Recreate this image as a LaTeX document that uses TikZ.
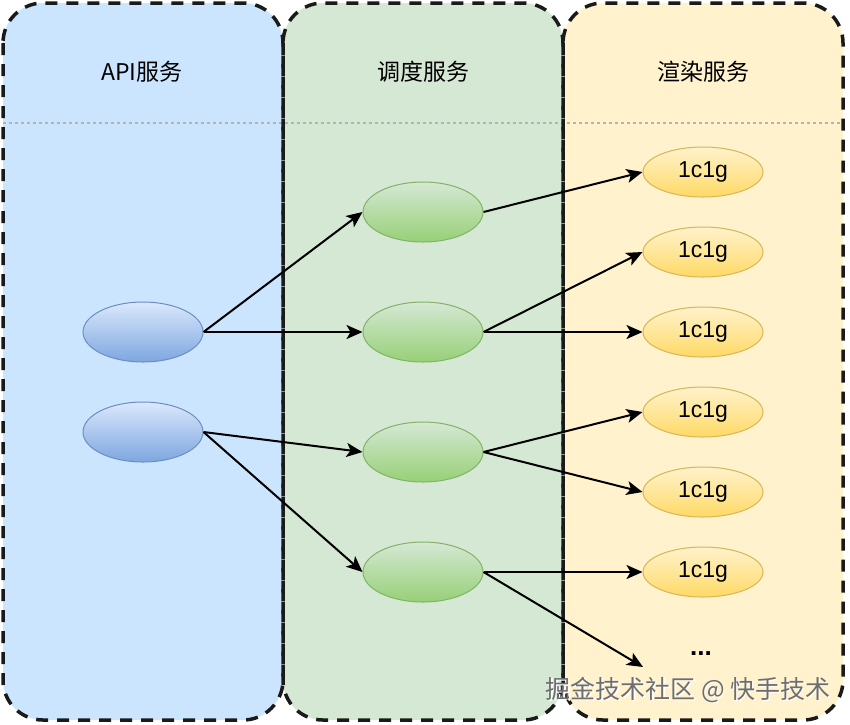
\documentclass[tikz,border=0pt]{standalone}
\usepackage{fontspec}
\setmainfont{Liberation Sans}
\newfontfamily\cjk{Noto Sans CJK SC}
\usetikzlibrary{arrows.meta,shapes.geometric}
\definecolor{pblue}{HTML}{CCE5FF}
\definecolor{pgreen}{HTML}{D5E8D4}
\definecolor{pyellow}{HTML}{FFF2CC}
\definecolor{bstroke}{HTML}{6C8EBF}
\definecolor{gstroke}{HTML}{82B366}
\definecolor{ystroke}{HTML}{D6B656}
\definecolor{btop}{HTML}{DAE8FC}
\definecolor{bbot}{HTML}{7EA6E0}
\definecolor{gtop}{HTML}{D5E8D4}
\definecolor{gbot}{HTML}{97D077}
\definecolor{ytop}{HTML}{FFF2CC}
\definecolor{ybot}{HTML}{FFD966}
\definecolor{border}{HTML}{1A1A1A}
\definecolor{sep}{HTML}{B3B3B3}
\definecolor{wm}{HTML}{6E6E6E}
\tikzset{
  panel/.style={draw=border, line width=3.5pt, dash pattern=on 12pt off 9pt, rounded corners=40pt},
  title/.style={font=\fontsize{23}{26}\selectfont\cjk},
  blueell/.style={ellipse, draw=bstroke, line width=1pt, top color=btop, bottom color=bbot, minimum width=120pt, minimum height=60pt, inner sep=0pt},
  greenell/.style={ellipse, draw=gstroke, line width=1pt, top color=gtop, bottom color=gbot, minimum width=120pt, minimum height=60pt, inner sep=0pt},
  yellowell/.style={ellipse, draw=ystroke, line width=1pt, top color=ytop, bottom color=ybot, minimum width=120pt, minimum height=50pt, inner sep=0pt, font=\fontsize{23}{26}\selectfont},
  conn/.style={-{Stealth[length=16pt,width=14pt,inset=4pt]}, line width=2pt, black},
  wmark/.style={font=\fontsize{25}{28}\selectfont\cjk},
}
\begin{document}
\begin{tikzpicture}[x=1pt,y=-1pt]
\useasboundingbox (0,0) rectangle (850,724);
\fill[white] (0,0) rectangle (850,724);
% panels fill
\fill[pblue, rounded corners=40pt] (3,3) rectangle (283,720);
\fill[pgreen, rounded corners=40pt] (283,3) rectangle (563,720);
\fill[pyellow, rounded corners=40pt] (563,3) rectangle (843,720);
% separator
\draw[sep, line width=2pt, dash pattern=on 3pt off 3pt] (3,123) -- (845,123);
% borders
\draw[panel] (3,3) rectangle (283,720);
\draw[panel] (283,3) rectangle (563,720);
\draw[panel] (563,3) rectangle (843,720);
% titles
\node[title] (t1) at (142,72) {API服务};
\node[title] (t2) at (423,72) {调度服务};
\node[title] (t3) at (703,72) {渲染服务};
% api
\node[blueell] (a1) at (143,332) {};
\node[blueell] (a2) at (143,432) {};
% scheduler
\node[greenell] (s1) at (423,212) {};
\node[greenell] (s2) at (423,332) {};
\node[greenell] (s3) at (423,452) {};
\node[greenell] (s4) at (423,572) {};
% render
\node[yellowell] (r1) at (703,172) {1c1g};
\node[yellowell] (r2) at (703,252) {1c1g};
\node[yellowell] (r3) at (703,332) {1c1g};
\node[yellowell] (r4) at (703,412) {1c1g};
\node[yellowell] (r5) at (703,492) {1c1g};
\node[yellowell] (r6) at (703,572) {1c1g};
\node[font=\fontsize{26}{28}\selectfont\bfseries] (dots) at (701,654) {...};
\coordinate (dend) at (643,667);
% connectors
\draw[conn] (a1.east) -- (s1.west);
\draw[conn] (a1.east) -- (s2.west);
\draw[conn] (a2.east) -- (s3.west);
\draw[conn] (a2.east) -- (s4.west);
\draw[conn] (s1.east) -- (r1.west);
\draw[conn] (s2.east) -- (r2.west);
\draw[conn] (s2.east) -- (r3.west);
\draw[conn] (s3.east) -- (r4.west);
\draw[conn] (s3.east) -- (r5.west);
\draw[conn] (s4.east) -- (r6.west);
\draw[conn] (s4.east) -- (dend);
% watermark
\node[wmark, text=white] (wms) at (689.5,691.5) {掘金技术社区 @ 快手技术};
\node[wmark, text=wm] (wmt) at (688,690) {掘金技术社区 @ 快手技术};
\end{tikzpicture}
\end{document}
